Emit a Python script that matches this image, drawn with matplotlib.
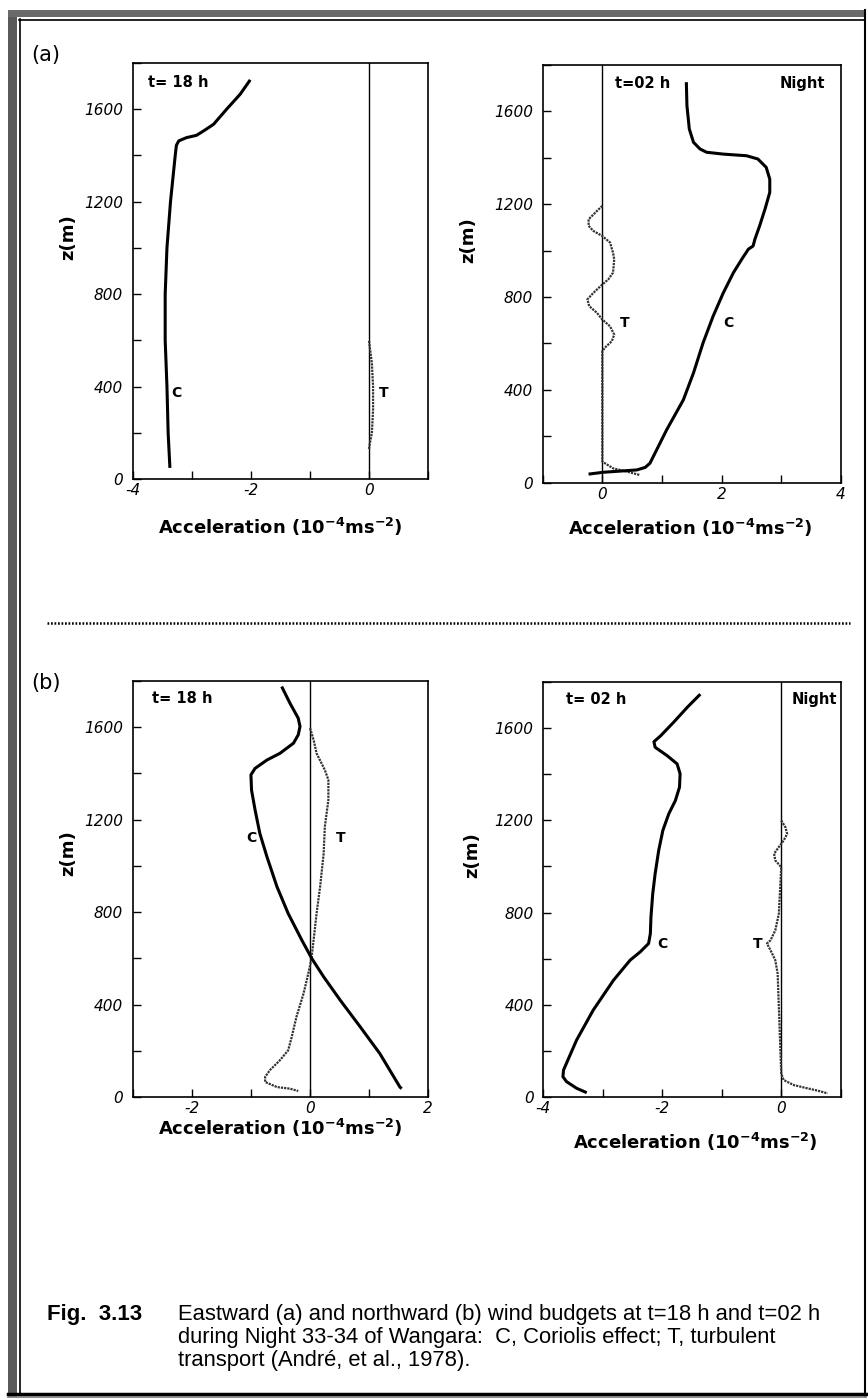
import matplotlib
matplotlib.use('Agg')
import matplotlib.pyplot as plt
from matplotlib.ticker import MultipleLocator, FuncFormatter
from matplotlib.patches import Rectangle

plt.rcParams['axes.unicode_minus'] = False
plt.rcParams['mathtext.default'] = 'bf'
plt.rcParams['font.family'] = ['DejaVu Sans']

# ---------------- data ----------------
# (a) eastward, t = 18 h
a18_C_x = [-3.37, -3.40, -3.42, -3.45, -3.45, -3.42, -3.36, -3.32, -3.28, -3.26, -3.22, -3.09, -2.92,
           -2.80, -2.63, -2.41, -2.18, -2.01]
a18_C_z = [48, 200, 400, 600, 800, 1000, 1200, 1300, 1400, 1444, 1463, 1477, 1487,
           1506, 1535, 1600, 1665, 1727]
a18_T_x = [0.0, 0.02, 0.05, 0.07, 0.07, 0.05, 0.02, 0.0]
a18_T_z = [130, 160, 200, 300, 400, 500, 560, 600]

# (a) eastward, t = 02 h
a02_C_x = [1.41, 1.42, 1.46, 1.53, 1.64, 1.75, 2.03, 2.42, 2.61, 2.75, 2.81, 2.81, 2.73, 2.64, 2.56,
           2.53, 2.45, 2.34, 2.20, 2.03, 1.86, 1.69, 1.53, 1.36, 1.08, 0.80, 0.72, 0.58, 0.30, 0.02, -0.23]
a02_C_z = [1726, 1625, 1524, 1467, 1438, 1424, 1416, 1409, 1395, 1359, 1308, 1251, 1179, 1107, 1049,
           1020, 1006, 963, 905, 818, 718, 602, 473, 357, 228, 84, 66, 55, 50, 45, 37]
a02_T_x = [0.0, -0.09, -0.23, -0.23, -0.15, 0.0, 0.13, 0.18, 0.20, 0.18, 0.10, 0.0, -0.15, -0.25,
           -0.22, -0.09, 0.0, 0.13, 0.20, 0.16, 0.04, 0.0, 0.0, 0.18, 0.41, 0.63]
a02_T_z = [1193, 1171, 1135, 1107, 1085, 1063, 1035, 991, 963, 905, 876, 854, 818, 790,
           761, 732, 703, 674, 638, 610, 581, 566, 91, 62, 48, 33]

# (b) northward, t = 18 h
b18_C_x = [-0.48, -0.34, -0.20, -0.17, -0.20, -0.28, -0.51, -0.73, -0.93, -1.00, -0.99, -0.93, -0.85,
           -0.73, -0.56, -0.37, -0.14, 0.03, 0.23, 0.51, 0.85, 1.18, 1.52, 1.55]
b18_C_z = [1776, 1704, 1639, 1603, 1567, 1531, 1487, 1458, 1422, 1394, 1328, 1242, 1141,
           1040, 910, 794, 679, 599, 520, 419, 303, 188, 43, 36]
b18_T_x = [0.0, 0.06, 0.11, 0.25, 0.31, 0.31, 0.25, 0.23, 0.17, 0.11, 0.06, 0.02, -0.03, -0.11,
           -0.23, -0.31, -0.37, -0.51, -0.68, -0.76, -0.76, -0.56, -0.34, -0.20]
b18_T_z = [1596, 1545, 1487, 1415, 1372, 1285, 1170, 1054, 910, 794, 679, 592, 534, 448,
           347, 260, 202, 159, 116, 87, 65, 43, 36, 26]

# (b) northward, t = 02 h
b02_C_x = [-1.36, -1.58, -1.81, -2.03, -2.14, -2.12, -1.92, -1.75, -1.70, -1.71, -1.78, -1.89, -1.99,
           -2.06, -2.12, -2.16, -2.19, -2.20, -2.23, -2.37, -2.54, -2.82, -3.16, -3.44, -3.66, -3.67,
           -3.61, -3.44, -3.27]
b02_C_z = [1746, 1689, 1624, 1565, 1540, 1516, 1480, 1444, 1401, 1343, 1285, 1228, 1156,
           1069, 968, 882, 781, 709, 666, 630, 594, 507, 378, 248, 118, 89,
           68, 39, 20]
b02_T_x = [0.0, 0.07, 0.10, 0.04, -0.04, -0.12, -0.10, 0.0, -0.02, -0.04, -0.10, -0.18, -0.24, -0.18,
           -0.10, -0.06, -0.04, -0.02, 0.0, 0.04, 0.21, 0.44, 0.61, 0.78]
b02_T_z = [1199, 1170, 1141, 1112, 1084, 1055, 1026, 997, 896, 795, 723, 680, 666, 637,
           594, 536, 392, 248, 104, 75, 53, 39, 29, 17]

xlims = {'a18': (-4, 1), 'a02': (-1, 4), 'b18': (-3, 2), 'b02': (-4, 1)}
ylim = (0, 1800)

# ---------------- figure ----------------
W, H = 868, 1399
fig = plt.figure(figsize=(W / 100, H / 100), dpi=100)

bg = fig.add_axes([0, 0, 1, 1], zorder=-5)
bg.set_xlim(0, W)
bg.set_ylim(H, 0)
bg.axis('off')

# page frame
bg.add_patch(Rectangle((8, 10), 9, 1387, facecolor='#5a5a5a', edgecolor='none'))
bg.add_patch(Rectangle((8, 10), 858, 7, facecolor='#6a6a6a', edgecolor='none'))
bg.plot([19.5, 19.5], [19, 1393], color='k', lw=1.2)
bg.plot([19, 864], [19.5, 19.5], color='k', lw=1.2)
bg.plot([864.5, 864.5], [10, 1396], color='k', lw=1.5)
bg.plot([8, 866], [1393.5, 1393.5], color='k', lw=2.5)
bg.plot([8, 866], [1397, 1397], color='#777777', lw=1.2)

# dotted separator
bg.plot([47, 850], [623, 623], color='k', lw=1.8, linestyle=(0, (0.7, 0.7)))

def xfmt(v, p):
    iv = int(round(v))
    return f'{iv}' if iv % 2 == 0 else ''

def yfmt(v, p):
    iv = int(round(v))
    return f'{iv}' if iv % 400 == 0 else ''

def make_ax(l, t, r, b, key):
    ax = fig.add_axes([l / W, 1 - b / H, (r - l) / W, (b - t) / H])
    ax.set_xlim(*xlims[key])
    ax.set_ylim(*ylim)
    ax.xaxis.set_major_locator(MultipleLocator(1))
    ax.yaxis.set_major_locator(MultipleLocator(200))
    ax.xaxis.set_major_formatter(FuncFormatter(xfmt))
    ax.yaxis.set_major_formatter(FuncFormatter(yfmt))
    ax.tick_params(direction='in', length=6, width=1.0, labelsize=11)
    ax.tick_params(axis='x', pad=3)
    ax.tick_params(axis='y', pad=7)
    for lab in ax.get_xticklabels() + ax.get_yticklabels():
        lab.set_fontstyle('italic')
    for s in ax.spines.values():
        s.set_linewidth(1.2)
    ax.axvline(0, color='k', lw=1.0, zorder=1)
    return ax

def curves(ax, cx, cz, tx, tz):
    ax.plot(tx, tz, color='#333333', lw=1.6, linestyle=(0, (1.0, 0.45)), zorder=2)
    ax.plot(cx, cz, color='k', lw=2.2, solid_capstyle='butt', zorder=3)

lab_kw = dict(fontsize=10, fontweight='bold', ha='center', va='center')
title_kw = dict(fontsize=10.5, fontweight='bold', va='center')
xlabel = 'Acceleration (10$^{-4}$ms$^{-2}$)'

def ptext(x, y, s, **kw):
    bg.text(x, y, s, **kw)

# (a) 18 h
ax1 = make_ax(132.7, 63, 428, 479, 'a18')
curves(ax1, a18_C_x, a18_C_z, a18_T_x, a18_T_z)
ax1.text(-3.26, 372, 'C', **lab_kw)
ax1.text(0.25, 372, 'T', **lab_kw)
ax1.text(0.053, 0.952, 't= 18 h', transform=ax1.transAxes, ha='left', **title_kw)
ptext(280, 527, xlabel, fontsize=13, fontweight='bold', ha='center', va='center')
ptext(68, 237, 'z(m)', fontsize=13, fontweight='bold', ha='center', va='center', rotation=90)

# (a) 02 h
ax2 = make_ax(542.7, 65, 840.7, 482.7, 'a02')
curves(ax2, a02_C_x, a02_C_z, a02_T_x, a02_T_z)
ax2.text(0.38, 689, 'T', **lab_kw)
ax2.text(2.11, 689, 'C', **lab_kw)
ax2.text(0.243, 0.956, 't=02 h', transform=ax2.transAxes, ha='left', **title_kw)
ax2.text(0.947, 0.956, 'Night', transform=ax2.transAxes, ha='right', **title_kw)
ptext(690, 528, xlabel, fontsize=13, fontweight='bold', ha='center', va='center')
ptext(468, 240, 'z(m)', fontsize=13, fontweight='bold', ha='center', va='center', rotation=90)

# (b) 18 h
ax3 = make_ax(132.7, 681, 428.3, 1097, 'b18')
curves(ax3, b18_C_x, b18_C_z, b18_T_x, b18_T_z)
ax3.text(-1.0, 1119, 'C', **lab_kw)
ax3.text(0.51, 1119, 'T', **lab_kw)
ax3.text(0.064, 0.958, 't= 18 h', transform=ax3.transAxes, ha='left', **title_kw)
ptext(280, 1128, xlabel, fontsize=13, fontweight='bold', ha='center', va='center')
ptext(68, 853, 'z(m)', fontsize=13, fontweight='bold', ha='center', va='center', rotation=90)

# (b) 02 h
ax4 = make_ax(543.3, 681.7, 840.7, 1097.3, 'b02')
curves(ax4, b02_C_x, b02_C_z, b02_T_x, b02_T_z)
ax4.text(-1.99, 663, 'C', **lab_kw)
ax4.text(-0.40, 663, 'T', **lab_kw)
ax4.text(0.076, 0.956, 't= 02 h', transform=ax4.transAxes, ha='left', **title_kw)
ax4.text(0.987, 0.956, 'Night', transform=ax4.transAxes, ha='right', **title_kw)
ptext(695, 1142, xlabel, fontsize=13, fontweight='bold', ha='center', va='center')
ptext(472, 855, 'z(m)', fontsize=13, fontweight='bold', ha='center', va='center', rotation=90)

# panel letters
ptext(31, 55, '(a)', fontsize=15, ha='left', va='center')
ptext(31, 683, '(b)', fontsize=15, ha='left', va='center')

# caption
ptext(47, 1320, 'Fig.  3.13', fontsize=16, fontweight='bold', family='Liberation Sans',
      ha='left', va='baseline')
cap_lines = ['Eastward (a) and northward (b) wind budgets at t=18 h and t=02 h',
             'during Night 33-34 of Wangara:  C, Coriolis effect; T, turbulent',
             'transport (André, et al., 1978).']
for i, line in enumerate(cap_lines):
    ptext(178, 1320 + 23 * i, line, fontsize=15.8, family='Liberation Sans',
          ha='left', va='baseline')

fig.savefig('out.png', dpi=100)
